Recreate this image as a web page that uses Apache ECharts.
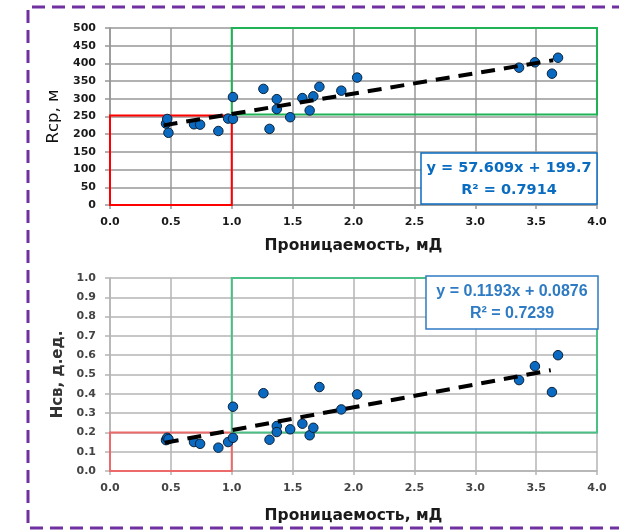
<!DOCTYPE html>
<html>
<head>
<meta charset="utf-8">
<script src="https://cdn.jsdelivr.net/npm/echarts@6/dist/echarts.min.js"></script>
<style>
  html, body { margin: 0; padding: 0; background: #fff; }
  #chart { width: 619px; height: 530px; }
</style>
</head>
<body>
<div id="chart"></div>
<script>
// проницаемость, мД (общая для обоих графиков)
const permX = [0.46, 0.47, 0.48, 0.69, 0.74, 0.89, 0.97, 1.01, 1.01, 1.26, 1.31, 1.37,
               1.37, 1.48, 1.58, 1.64, 1.67, 1.72, 1.90, 2.03, 3.36, 3.49, 3.63, 3.68];
// Rср, м
const rcp = [230, 243, 204, 228, 227, 209, 244, 243, 305, 328, 215, 299,
             271, 248, 302, 267, 307, 334, 323, 360, 388, 403, 371, 416];
// Нсв, д.ед.
const hsv = [0.160, 0.172, 0.165, 0.150, 0.141, 0.121, 0.150, 0.172, 0.333, 0.403, 0.162, 0.233,
             0.202, 0.216, 0.245, 0.185, 0.224, 0.435, 0.319, 0.397, 0.471, 0.543, 0.409, 0.600];
// линии тренда (концы)
const trendTop = [[0.44, 225], [3.64, 409]];
const trendBottom = [[0.45, 0.146], [3.62, 0.522]];
// зоны
const zonesTop = [[[0, 0], [1, 253], '#ff0000'], [[1, 256], [4, 500], '#1fb356']];
const zonesBottom = [[[0, 0], [1, 0.2], '#ec6a6a'], [[1, 0.2], [4, 1.0], '#4cbf86']];
const eqTop = ['y = 57.609x + 199.7', 'R² = 0.7914'];
const eqBottom = ['y = 0.1193x + 0.0876', 'R² = 0.7239'];

const chart = echarts.init(document.getElementById('chart'));

const axisX = (idx, gridLine, labelColor, nameGap) => ({
  gridIndex: idx, type: 'value', min: 0, max: 4, interval: 0.5,
  name: 'Проницаемость, мД', nameLocation: 'middle', nameGap: nameGap,
  nameTextStyle: { fontFamily: 'DejaVu Sans', fontWeight: 'bold', fontSize: 15.5, color: '#1a1a1a' },
  axisLine: { show: true, lineStyle: { color: gridLine, width: 1.5 } },
  axisTick: { show: true, length: 4, lineStyle: { color: gridLine, width: 1.5 } },
  axisLabel: { fontFamily: 'DejaVu Sans', fontWeight: 'bold', fontSize: 11, color: labelColor, margin: 12,
               formatter: v => v.toFixed(1) },
  splitLine: { show: true, lineStyle: { color: gridLine, width: 1.5 } }
});

const zoneArea = zones => ({
  silent: true,
  data: zones.map(z => [
    { coord: z[0], itemStyle: { color: 'transparent', borderColor: z[2], borderWidth: 2 } },
    { coord: z[1] }
  ])
});

const pointStyle = { color: '#0a6ac2', borderColor: '#0b2238', borderWidth: 1, opacity: 1 };

chart.setOption({
  backgroundColor: '#fff',
  animation: false,
  grid: [
    { left: 110, right: 22, top: 28, height: 177 },
    { left: 110, right: 22, top: 278, height: 193 }
  ],
  xAxis: [axisX(0, '#979797', '#1a1a1a', 33), axisX(1, '#b4b4b4', '#444', 37)],
  yAxis: [
    {
      gridIndex: 0, type: 'value', min: 0, max: 500, interval: 50,
      name: 'Rср, м', nameLocation: 'middle', nameGap: 46,
      nameTextStyle: { fontFamily: 'DejaVu Sans', fontSize: 16.5, color: '#111' },
      axisLine: { show: true, lineStyle: { color: '#979797', width: 1.5 } },
      axisTick: { show: true, length: 5, lineStyle: { color: '#979797', width: 1.5 } },
      axisLabel: { fontFamily: 'DejaVu Sans', fontWeight: 'bold', fontSize: 11, color: '#1a1a1a', margin: 14 },
      splitLine: { lineStyle: { color: '#979797', width: 1.5 } }
    },
    {
      gridIndex: 1, type: 'value', min: 0, max: 1, interval: 0.1,
      name: 'Нсв, д.ед.', nameLocation: 'middle', nameGap: 44,
      nameTextStyle: { fontFamily: 'DejaVu Sans', fontWeight: 'bold', fontSize: 15, color: '#333' },
      axisLine: { show: true, lineStyle: { color: '#b4b4b4', width: 1.5 } },
      axisTick: { show: true, length: 5, lineStyle: { color: '#b4b4b4', width: 1.5 } },
      axisLabel: { fontFamily: 'DejaVu Sans', fontWeight: 'bold', fontSize: 11, color: '#444', margin: 14,
                   formatter: v => v.toFixed(1) },
      splitLine: { lineStyle: { color: '#b4b4b4', width: 1.5 } }
    }
  ],
  series: [
    {
      type: 'line', xAxisIndex: 0, yAxisIndex: 0, data: [], markArea: zoneArea(zonesTop), z: 1
    },
    {
      type: 'line', xAxisIndex: 1, yAxisIndex: 1, data: [], markArea: zoneArea(zonesBottom), z: 1
    },
    {
      type: 'scatter', xAxisIndex: 0, yAxisIndex: 0, symbolSize: 9.5, itemStyle: pointStyle, z: 3,
      data: permX.map((x, i) => [x, rcp[i]])
    },
    {
      type: 'scatter', xAxisIndex: 1, yAxisIndex: 1, symbolSize: 9.5, itemStyle: pointStyle, z: 3,
      data: permX.map((x, i) => [x, hsv[i]])
    },
    {
      type: 'line', xAxisIndex: 0, yAxisIndex: 0, data: trendTop, symbol: 'none', z: 4,
      lineStyle: { color: '#000', width: 4, type: [14, 9] }
    },
    {
      type: 'line', xAxisIndex: 1, yAxisIndex: 1, data: trendBottom, symbol: 'none', z: 4,
      lineStyle: { color: '#000', width: 4, type: [14, 9] }
    }
  ],
  graphic: [
    // фиолетовая рамка
    {
      type: 'polyline', silent: true, z: 10,
      shape: { points: [[625, 7], [28, 7], [28, 528], [625, 528]] },
      style: { stroke: '#7030a0', lineWidth: 3, lineDash: [13, 7], fill: null }
    },
    // уравнение сверху
    {
      type: 'rect', z: 10,
      shape: { x: 421, y: 153, width: 176, height: 51 },
      style: { fill: '#fff', stroke: '#0a6cc0', lineWidth: 1.5 }
    },
    {
      type: 'text', z: 11, x: 509, y: 168,
      style: { text: eqTop[0], fill: '#0a6cc0', font: 'bold 14.5px "DejaVu Sans"', align: 'center', verticalAlign: 'middle' }
    },
    {
      type: 'text', z: 11, x: 509, y: 190,
      style: { text: eqTop[1], fill: '#0a6cc0', font: 'bold 14.5px "DejaVu Sans"', align: 'center', verticalAlign: 'middle' }
    },
    // уравнение снизу
    {
      type: 'rect', z: 10,
      shape: { x: 426, y: 276, width: 172, height: 53 },
      style: { fill: '#fff', stroke: '#2e7bc4', lineWidth: 1.5 }
    },
    {
      type: 'text', z: 11, x: 512, y: 292,
      style: { text: eqBottom[0], fill: '#2e7bc4', font: 'bold 16px "Liberation Sans"', align: 'center', verticalAlign: 'middle' }
    },
    {
      type: 'text', z: 11, x: 512, y: 314,
      style: { text: eqBottom[1], fill: '#2e7bc4', font: 'bold 16px "Liberation Sans"', align: 'center', verticalAlign: 'middle' }
    }
  ]
});
</script>
</body>
</html>
